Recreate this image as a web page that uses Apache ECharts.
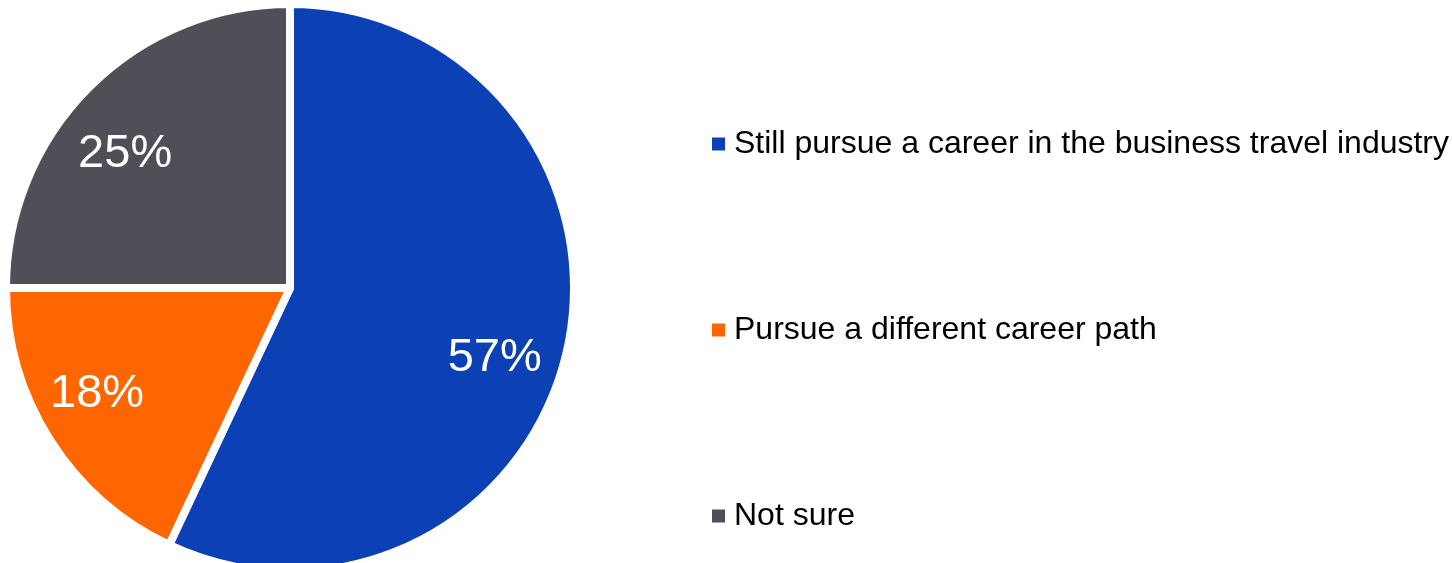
<!DOCTYPE html>
<html>
<head>
<meta charset="utf-8">
<script src="https://cdn.jsdelivr.net/npm/echarts@6/dist/echarts.min.js"></script>
<style>
  html, body { margin: 0; padding: 0; background: #ffffff; }
  #chart { width: 1452px; height: 563px; }
</style>
</head>
<body>
<div id="chart"></div>
<script>
// Survey answers and their shares (percent)
const categories = [
  'Still pursue a career in the business travel industry',
  'Pursue a different career path',
  'Not sure'
];
const shares = [57, 18, 25];
const colors = ['#0B41B4', '#FF6600', '#4F4F57'];
// small nudges for the percentage labels inside each slice
const labelNudges = [[-9, 22], [-8, -11], [-10, 21]];

const sliceData = categories.map((name, i) => ({
  name: name,
  value: shares[i],
  itemStyle: { color: colors[i] }
}));

const chart = echarts.init(document.getElementById('chart'), null, { renderer: 'canvas' });

chart.setOption({
  animation: false,
  backgroundColor: '#ffffff',
  legend: {
    orient: 'vertical',
    left: 710,
    top: 126,
    padding: 0,
    itemWidth: 15,
    itemHeight: 15,
    itemGap: 150,
    icon: 'rect',
    selectedMode: false,
    data: categories,
    textStyle: {
      fontFamily: 'Liberation Sans, Arial, sans-serif',
      fontSize: 32,
      lineHeight: 36,
      color: '#000000',
      padding: [0, 0, 0, 3]
    }
  },
  series: [
    {
      // the pie itself
      type: 'pie',
      center: [290, 288],
      radius: [0, 284],
      startAngle: 90,
      clockwise: true,
      silent: true,
      label: { show: false },
      labelLine: { show: false },
      itemStyle: { borderColor: '#ffffff', borderWidth: 8 },
      data: sliceData
    },
    {
      // transparent ring that carries the percentage labels further out
      type: 'pie',
      center: [290, 288],
      radius: [148, 284],
      startAngle: 90,
      clockwise: true,
      silent: true,
      legendHoverLink: false,
      label: {
        show: true,
        position: 'inside',
        formatter: '{c}%',
        color: '#ffffff',
        fontFamily: 'Liberation Sans, Arial, sans-serif',
        fontSize: 47
      },
      labelLine: { show: false },
      itemStyle: { color: 'rgba(0,0,0,0)', borderWidth: 0 },
      data: categories.map((name, i) => ({
        name: name,
        value: shares[i],
        label: { offset: labelNudges[i] }
      }))
    }
  ]
});
</script>
</body>
</html>
